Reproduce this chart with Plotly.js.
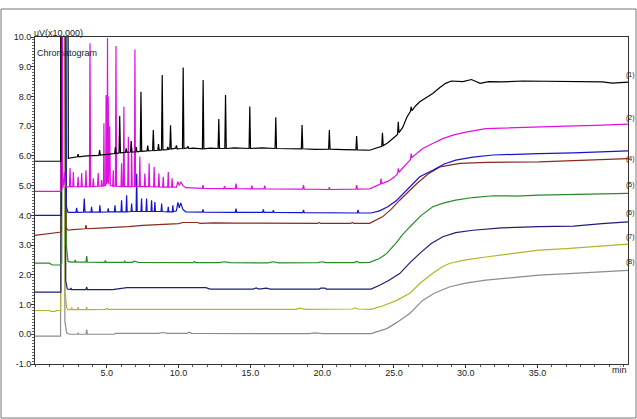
<!DOCTYPE html>
<html><head><meta charset="utf-8">
<script src="https://cdn.plot.ly/plotly-3.0.1.min.js"></script>
<style>html,body{margin:0;padding:0;background:#fff}#chart{width:637px;height:419px}</style>
</head><body><div id="chart"></div>
<script>
// [time (min), signal (uV x10,000, offset per run)]
const run1 = [[0,5.82],[1.79,5.82],[1.8,11],[2.3,11],[2.32,5.92],[2.6,5.94],[2.95,5.97],[3.0,6.06],[3.05,5.97],[3.6,6.0],[4.45,6.02],[4.5,6.2],[4.55,6.03],[5.2,6.06],[5.55,6.08],[5.6,6.3],[5.65,6.08],[5.85,6.1],[5.9,7.34],[5.95,6.1],[6.3,6.12],[6.35,6.25],[6.4,6.12],[6.65,6.13],[6.7,6.5],[6.75,6.13],[7.0,6.14],[7.05,6.3],[7.1,6.14],[7.33,6.15],[7.38,8.16],[7.43,6.15],[7.8,6.17],[7.85,6.35],[7.9,6.17],[8.19,6.18],[8.24,6.87],[8.29,6.18],[8.55,6.19],[8.6,6.4],[8.65,6.19],[8.81,6.2],[8.86,8.72],[8.91,6.2],[9.2,6.21],[9.25,6.3],[9.3,6.22],[9.39,6.23],[9.44,7.03],[9.49,6.23],[9.8,6.26],[9.85,6.35],[9.9,6.24],[10.27,6.25],[10.32,8.97],[10.37,6.25],[10.6,6.27],[10.65,6.33],[10.7,6.25],[11.0,6.26],[11.66,6.24],[11.71,8.55],[11.76,6.24],[12.2,6.26],[12.75,6.25],[12.8,7.24],[12.85,6.25],[13.22,6.25],[13.27,8.05],[13.32,6.25],[13.9,6.27],[14.91,6.25],[14.96,7.66],[15.01,6.25],[15.8,6.27],[16.72,6.25],[16.77,7.3],[16.82,6.25],[17.5,6.24],[18.55,6.24],[18.6,7.04],[18.65,6.24],[19.5,6.22],[20.45,6.23],[20.5,6.87],[20.55,6.23],[21.5,6.21],[22.35,6.2],[22.4,6.67],[22.45,6.2],[23.3,6.19],[23.8,6.26],[24.15,6.32],[24.2,6.78],[24.25,6.34],[24.6,6.45],[25.0,6.6],[25.25,6.72],[25.3,7.15],[25.35,6.78],[25.6,6.95],[25.9,7.3],[26.15,7.5],[26.2,7.65],[26.25,7.52],[26.5,7.68],[26.8,7.82],[27.2,7.95],[27.7,8.1],[28.2,8.3],[28.6,8.44],[29.0,8.52],[29.8,8.5],[30.4,8.57],[31.0,8.44],[31.6,8.5],[32.5,8.49],[34.0,8.52],[35.0,8.51],[36.5,8.52],[38.0,8.5],[39.5,8.49],[40.2,8.45],[41.3,8.48]];
const run2 = [[0,4.81],[1.8,4.81],[1.82,11],[1.9,11],[1.93,4.9],[2.0,5.1],[2.05,5.45],[2.12,5.0],[2.2,4.95],[2.4,4.97],[2.44,5.59],[2.48,4.97],[2.63,4.97],[2.67,5.46],[2.71,4.97],[2.96,4.96],[3.0,5.3],[3.04,4.96],[3.21,4.97],[3.25,5.42],[3.29,4.97],[3.51,4.96],[3.55,5.52],[3.59,4.96],[3.79,4.97],[3.83,9.79],[3.87,4.97],[4.02,4.97],[4.06,5.25],[4.1,4.97],[4.36,4.98],[4.4,5.42],[4.44,4.98],[4.6,4.98],[4.64,5.19],[4.68,4.98],[4.77,4.99],[4.8,7.1],[4.83,5.0],[4.92,5.0],[4.95,8.05],[4.98,5.05],[5.02,5.1],[5.05,9.97],[5.08,5.1],[5.1,8.0],[5.14,5.05],[5.2,7.0],[5.25,5.0],[5.41,4.98],[5.45,5.52],[5.49,4.98],[5.6,4.98],[5.64,9.7],[5.68,4.98],[5.99,4.97],[6.03,5.75],[6.07,4.97],[6.15,4.97],[6.19,7.65],[6.23,4.97],[6.46,4.97],[6.5,6.64],[6.54,4.97],[6.7,4.97],[6.73,6.26],[6.77,4.97],[6.92,4.98],[6.96,9.58],[7.0,4.98],[7.26,4.97],[7.3,5.98],[7.34,4.97],[7.61,4.97],[7.65,5.41],[7.69,4.97],[7.91,4.97],[7.95,5.75],[7.99,4.97],[8.26,4.96],[8.3,5.63],[8.34,4.96],[8.59,4.96],[8.63,5.41],[8.67,4.96],[8.89,4.95],[8.93,5.3],[8.97,4.95],[9.24,4.95],[9.28,5.46],[9.32,4.95],[9.51,4.95],[9.55,5.25],[9.59,4.95],[9.85,4.95],[9.95,5.13],[10.05,5.0],[10.15,5.13],[10.3,5.0],[10.5,4.93],[11.65,4.91],[11.7,5.02],[11.75,4.91],[13.15,4.9],[13.2,4.98],[13.25,4.9],[13.95,4.9],[14.0,5.07],[14.05,4.9],[15.05,4.89],[15.1,5.0],[15.15,4.89],[15.95,4.89],[16.0,5.0],[16.05,4.89],[17.0,4.88],[18.65,4.88],[18.7,5.02],[18.75,4.88],[20.45,4.87],[20.5,4.95],[20.55,4.87],[22.35,4.88],[22.4,5.02],[22.45,4.88],[23.3,4.89],[23.8,4.98],[24.05,5.05],[24.1,5.24],[24.15,5.07],[24.6,5.15],[25.0,5.28],[25.25,5.4],[25.3,5.58],[25.35,5.45],[25.7,5.62],[26.0,5.8],[26.15,5.88],[26.2,6.08],[26.25,5.95],[26.6,6.1],[27.0,6.25],[27.7,6.42],[28.4,6.58],[29.1,6.7],[30.0,6.8],[31.4,6.92],[33.0,6.95],[35.1,6.98],[37.0,7.0],[39.0,7.03],[41.3,7.07]];
const run3 = [[0,4.0],[1.84,4.0],[1.86,11],[2.15,11],[2.18,4.3],[2.3,4.1],[2.85,4.1],[2.9,4.25],[2.95,4.1],[3.38,4.11],[3.43,4.57],[3.48,4.11],[3.9,4.11],[3.94,4.29],[3.98,4.11],[4.48,4.11],[4.52,4.34],[4.56,4.11],[5.06,4.12],[5.1,4.24],[5.14,4.12],[5.53,4.12],[5.57,4.34],[5.61,4.12],[5.99,4.12],[6.03,4.51],[6.07,4.12],[6.34,4.12],[6.38,4.68],[6.42,4.12],[6.69,4.13],[6.73,4.4],[6.77,4.13],[7.04,4.13],[7.08,5.4],[7.12,4.13],[7.38,4.13],[7.42,4.57],[7.46,4.13],[7.73,4.13],[7.77,4.57],[7.81,4.13],[8.08,4.13],[8.12,4.51],[8.16,4.13],[8.31,4.13],[8.35,4.45],[8.39,4.13],[8.78,4.13],[8.82,4.4],[8.86,4.13],[9.24,4.12],[9.28,4.29],[9.32,4.12],[9.56,4.12],[9.6,4.34],[9.64,4.12],[9.85,4.15],[9.95,4.44],[10.05,4.25],[10.15,4.42],[10.3,4.2],[10.5,4.12],[11.65,4.11],[11.7,4.2],[11.75,4.11],[13.95,4.1],[14.0,4.23],[14.05,4.1],[15.85,4.1],[15.9,4.2],[15.95,4.1],[16.55,4.1],[16.6,4.17],[16.65,4.1],[18.65,4.09],[18.7,4.18],[18.75,4.09],[22.45,4.08],[22.5,4.18],[22.55,4.08],[23.4,4.08],[24.0,4.15],[24.6,4.3],[25.2,4.51],[25.6,4.7],[26.1,4.96],[26.8,5.3],[27.7,5.52],[28.5,5.73],[29.3,5.86],[30.5,5.96],[31.9,6.03],[33.5,6.06],[35.1,6.08],[37.5,6.1],[39.5,6.14],[41.3,6.17]];
const run4 = [[0,3.33],[0.8,3.37],[1.75,3.44],[1.83,3.44],[1.85,11],[2.1,11],[2.15,3.6],[2.3,3.5],[2.6,3.52],[3.5,3.55],[3.55,3.67],[3.6,3.55],[4.5,3.57],[5.6,3.59],[6.5,3.62],[7.5,3.66],[8.7,3.69],[10.0,3.72],[10.3,3.76],[11.3,3.76],[11.5,3.73],[12.5,3.75],[14.0,3.74],[19.7,3.73],[19.8,3.76],[19.9,3.73],[22.0,3.73],[22.1,3.76],[22.2,3.73],[23.3,3.73],[24.2,3.95],[24.8,4.2],[25.4,4.51],[26.0,4.8],[26.6,5.07],[27.4,5.4],[28.2,5.63],[29.6,5.75],[31.5,5.78],[35.1,5.8],[38.0,5.85],[41.3,5.91]];
const run5 = [[0,2.39],[1.0,2.39],[1.2,2.33],[1.75,2.33],[1.8,2.39],[1.86,2.39],[1.88,11],[2.15,11],[2.18,3.0],[2.3,2.45],[2.5,2.43],[2.75,2.43],[2.8,2.5],[2.85,2.43],[3.55,2.43],[3.6,2.63],[3.65,2.43],[4.85,2.42],[4.9,2.48],[4.95,2.42],[6.2,2.42],[6.25,2.46],[6.3,2.42],[6.8,2.42],[6.9,2.46],[7.2,2.42],[11.0,2.41],[11.1,2.45],[11.2,2.41],[12.8,2.41],[13.2,2.44],[13.6,2.41],[16.2,2.4],[16.6,2.44],[17.0,2.4],[19.7,2.41],[20.0,2.44],[20.3,2.41],[22.2,2.41],[22.4,2.45],[22.6,2.41],[23.3,2.42],[24.0,2.55],[24.5,2.72],[25.2,3.1],[25.6,3.35],[26.1,3.61],[26.9,4.0],[27.7,4.29],[28.5,4.42],[29.3,4.51],[30.5,4.6],[31.9,4.66],[33.5,4.65],[35.1,4.68],[38.0,4.7],[41.3,4.74]];
const run6 = [[0,1.42],[1.8,1.42],[1.82,11],[2.12,11],[2.14,1.8],[2.25,1.52],[2.45,1.5],[2.5,1.56],[2.55,1.5],[3.55,1.5],[3.6,1.59],[3.65,1.5],[5.4,1.5],[6.4,1.57],[11.9,1.57],[12.2,1.52],[15.2,1.52],[15.4,1.56],[15.6,1.52],[16.1,1.55],[16.4,1.52],[19.8,1.52],[19.9,1.55],[20.2,1.55],[20.3,1.52],[23.4,1.52],[24.0,1.65],[24.6,1.8],[25.4,2.04],[26.1,2.4],[26.8,2.72],[27.6,3.05],[28.4,3.28],[29.3,3.42],[30.5,3.5],[32.5,3.58],[35.1,3.62],[37.5,3.64],[39.5,3.72],[41.3,3.78]];
const run7 = [[0,0.8],[1.0,0.8],[1.1,0.77],[1.4,0.77],[1.5,0.8],[1.79,0.8],[1.81,11],[2.08,11],[2.1,1.4],[2.2,0.9],[2.3,0.83],[2.5,0.83],[2.55,0.9],[2.6,0.83],[2.95,0.83],[3.0,0.91],[3.05,0.83],[3.55,0.83],[3.6,0.91],[3.65,0.83],[4.9,0.84],[5.0,0.87],[5.1,0.84],[5.6,0.84],[7.8,0.84],[8.0,0.86],[11.5,0.86],[14.0,0.85],[18.2,0.84],[18.4,0.88],[18.9,0.84],[22.1,0.85],[22.3,0.89],[22.5,0.85],[23.4,0.84],[24.2,0.95],[25.2,1.14],[26.1,1.38],[26.9,1.75],[27.7,2.05],[28.4,2.28],[28.9,2.39],[30.0,2.5],[31.4,2.6],[33.3,2.72],[35.1,2.83],[37.0,2.88],[39.0,2.95],[41.3,3.03]];
const run8 = [[0,-0.06],[1.78,-0.06],[1.8,11],[2.05,11],[2.08,0.45],[2.2,0.05],[2.4,0.0],[2.95,0.0],[3.0,0.05],[3.05,0.0],[3.55,0.0],[3.6,0.16],[3.65,0.0],[5.5,0.0],[5.6,0.03],[8.6,0.03],[8.9,0.06],[9.3,0.03],[10.6,0.03],[10.75,0.07],[10.9,0.03],[19.1,0.02],[19.5,0.05],[20.0,0.02],[23.4,0.02],[24.0,0.12],[24.5,0.19],[25.2,0.4],[26.1,0.7],[27.0,1.14],[27.8,1.38],[28.9,1.6],[30.0,1.72],[31.4,1.82],[33.75,1.93],[35.1,1.99],[37.5,2.05],[39.5,2.1],[41.3,2.15]];

const runs = [run8, run7, run6, run5, run4, run3, run2, run1];
const runColors = ['#8c8c8c','#b4b428','#1e1e78','#2a8a2a','#8b2a1e','#1515d0','#e010e0','#000000'];
const endLabels = ['(1)','(2)','(4)','(5)','(6)','(7)','(8)'];
const endLabelY = [8.72, 7.27, 5.89, 5.02, 4.07, 3.27, 2.42];
const xTickVals = [5,10,15,20,25,30,35];
const xTickText = ['5.0','10.0','15.0','20.0','25.0','30.0','35.0'];
const yTickVals = [-1,0,1,2,3,4,5,6,7,8,9,10];
const yTickText = ['-1.0','0.0','1.0','2.0','3.0','4.0','5.0','6.0','7.0','8.0','9.0','10.0'];

const traces = runs.map((r, i) => ({
  x: r.map(p => p[0]), y: r.map(p => p[1]),
  type: 'scatter', mode: 'lines', hoverinfo: 'skip',
  line: {color: runColors[i], width: 1.2}
}));

const font = {family: 'Liberation Sans, Arial, sans-serif', size: 9, color: '#222'};
const annotations = endLabels.map((t, i) => ({
  text: t, xref: 'paper', x: 1, xanchor: 'left', xshift: -4,
  yref: 'y', y: endLabelY[i], yanchor: 'middle', showarrow: false,
  font: {family: font.family, size: 7, color: '#222'}
}));
annotations.push({text: 'uV(x10,000)', xref: 'paper', x: 0, xanchor: 'left', xshift: -3,
  yref: 'paper', y: 1, yanchor: 'bottom', yshift: -3, showarrow: false, font: font});
annotations.push({text: 'Chromatogram', xref: 'paper', x: 0, xanchor: 'left', xshift: 0,
  yref: 'paper', y: 1, yanchor: 'top', yshift: -9, showarrow: false, font: font});
annotations.push({text: 'min', xref: 'paper', x: 1, xanchor: 'right', xshift: 1,
  yref: 'paper', y: 0, yanchor: 'top', yshift: 1, showarrow: false, font: font});

const layout = {
  width: 637, height: 419,
  margin: {l: 35, r: 9, t: 37, b: 55, pad: 0},
  paper_bgcolor: '#fff', plot_bgcolor: '#fff',
  showlegend: false, font: font,
  xaxis: {range: [0, 41.3], showgrid: false, zeroline: false,
    showline: true, mirror: true, linecolor: '#333', linewidth: 1,
    tickmode: 'array', tickvals: xTickVals, ticktext: xTickText,
    ticks: 'outside', ticklen: 3, tickcolor: '#333', tickfont: font, ticklabelstandoff: -3,
    minor: {tick0: 0, dtick: 1, ticks: 'outside', ticklen: 2, tickcolor: '#555', showgrid: false}},
  yaxis: {range: [-1, 10], showgrid: false, zeroline: false,
    showline: true, mirror: true, linecolor: '#333', linewidth: 1,
    tickmode: 'array', tickvals: yTickVals, ticktext: yTickText,
    ticks: 'outside', ticklen: 3, tickcolor: '#333', tickfont: font, ticklabelstandoff: -2,
    minor: {tick0: 0, dtick: 0.1, ticks: 'outside', ticklen: 2, tickcolor: '#666', showgrid: false}},
  annotations: annotations,
  shapes: [{type: 'rect', xref: 'paper', yref: 'paper',
    x0: -1/593*34, x1: 1 + 8/593, y0: -54/327, y1: 1 + 28/327,
    line: {color: '#777', width: 1}, fillcolor: 'rgba(0,0,0,0)', layer: 'below'}]
};

Plotly.newPlot('chart', traces, layout, {staticPlot: true, displayModeBar: false});
</script></body></html>
